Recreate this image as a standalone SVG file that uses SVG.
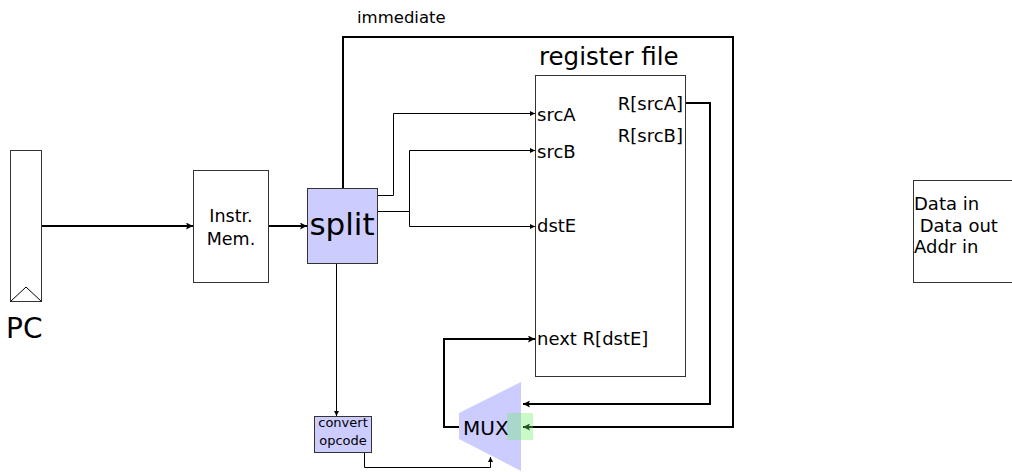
<svg xmlns="http://www.w3.org/2000/svg" width="1012" height="472" viewBox="0 0 1012 472">
  <style>
    text { font-family: "DejaVu Sans", "Liberation Sans", sans-serif; fill: #000; }
    .box { fill: #fff; stroke: #333; stroke-width: 1; }
    .blue { fill: #ccccff; stroke: #333; stroke-width: 1; }
    .thin { fill: none; stroke: #000; stroke-width: 1; }
    .thick { fill: none; stroke: #000; stroke-width: 2; }
  </style>
  <defs>
    <marker id="arrS" viewBox="0 0 10 10" refX="10" refY="5" markerWidth="5" markerHeight="5" markerUnits="userSpaceOnUse" orient="auto">
      <path d="M0,0 L10,5 L0,10 z" fill="#000"/>
    </marker>
    <marker id="arrL" viewBox="0 0 10 10" refX="10" refY="5" markerWidth="10" markerHeight="7" markerUnits="userSpaceOnUse" orient="auto">
      <path d="M0,0 L10,5 L0,10 L2,5 z" fill="#000"/>
    </marker>
  </defs>

  <!-- connectors -->
  <g id="connectors">
    <line class="thick" x1="42" y1="226" x2="193" y2="226" marker-end="url(#arrL)"/>
    <line class="thick" x1="269" y1="226" x2="307" y2="226" marker-end="url(#arrL)"/>
    <polyline class="thin" points="378,195.5 393.5,195.5 393.5,113.5 535,113.5" marker-end="url(#arrS)"/>
    <polyline class="thin" points="378,211.5 409.5,211.5 409.5,150.5 535,150.5" marker-end="url(#arrS)"/>
    <polyline class="thin" points="409.5,211.5 409.5,226.5 535,226.5" marker-end="url(#arrS)"/>
    <polyline class="thick" points="343,188 343,37 733,37 733,427 523,427" marker-end="url(#arrL)"/>
    <polyline class="thick" points="686,103 710,103 710,404 523,404" marker-end="url(#arrL)"/>
    <polyline class="thick" points="459,427 444,427 444,339 535,339" marker-end="url(#arrL)"/>
    <line class="thin" x1="336.5" y1="264" x2="336.5" y2="416" marker-end="url(#arrS)"/>
    <polyline class="thin" points="364.5,453 364.5,467.5 490.5,467.5 490.5,457" marker-end="url(#arrS)"/>
  </g>

  <text x="357" y="23" font-size="16.5">immediate</text>

  <!-- program counter -->
  <g id="pc">
    <rect class="box" x="10.5" y="150.5" width="31" height="151"/>
    <polyline class="thin" points="10.5,301.5 26,287 41.5,301.5" stroke="#333"/>
    <text x="6" y="338" font-size="28">PC</text>
  </g>

  <!-- instruction memory -->
  <g id="instr-mem">
    <rect class="box" x="193.5" y="170.5" width="75" height="112"/>
    <text x="231" y="222" font-size="17.5" text-anchor="middle">Instr.</text>
    <text x="231" y="245" font-size="17.5" text-anchor="middle">Mem.</text>
  </g>

  <!-- split -->
  <g id="split">
    <rect class="blue" x="307.5" y="188.5" width="70" height="75"/>
    <text x="342" y="235" font-size="31" text-anchor="middle">split</text>
  </g>

  <!-- register file -->
  <g id="register-file">
    <rect class="box" x="535.5" y="75.5" width="150" height="301"/>
    <text x="539" y="65" font-size="24.5">register file</text>
    <text x="537" y="121" font-size="18">srcA</text>
    <text x="537" y="158" font-size="18">srcB</text>
    <text x="537" y="232" font-size="18">dstE</text>
    <text x="537" y="345" font-size="18">next R[dstE]</text>
    <text x="683" y="110" font-size="18" text-anchor="end">R[srcA]</text>
    <text x="683" y="142" font-size="18" text-anchor="end">R[srcB]</text>
  </g>

  <!-- convert opcode -->
  <g id="convert-opcode">
    <rect class="blue" x="314.5" y="416.5" width="57" height="36"/>
    <text x="343" y="427" font-size="13" text-anchor="middle">convert</text>
    <text x="343" y="445" font-size="13" text-anchor="middle">opcode</text>
  </g>

  <!-- multiplexer -->
  <g id="mux">
    <polygon points="459,413 521,382 521,471 459,439" fill="#ccccff"/>
    <text x="463" y="435" font-size="20">MUX</text>
    <rect x="507" y="413" width="26" height="27" fill="#66ee66" opacity="0.35"/>
  </g>

  <!-- data memory -->
  <g id="data-mem">
    <rect class="box" x="913.5" y="180.5" width="110" height="102"/>
    <text x="914" y="210" font-size="18">Data in</text>
    <text x="914" y="232" font-size="18" xml:space="preserve"> Data out</text>
    <text x="914" y="253" font-size="18">Addr in</text>
  </g>
</svg>
